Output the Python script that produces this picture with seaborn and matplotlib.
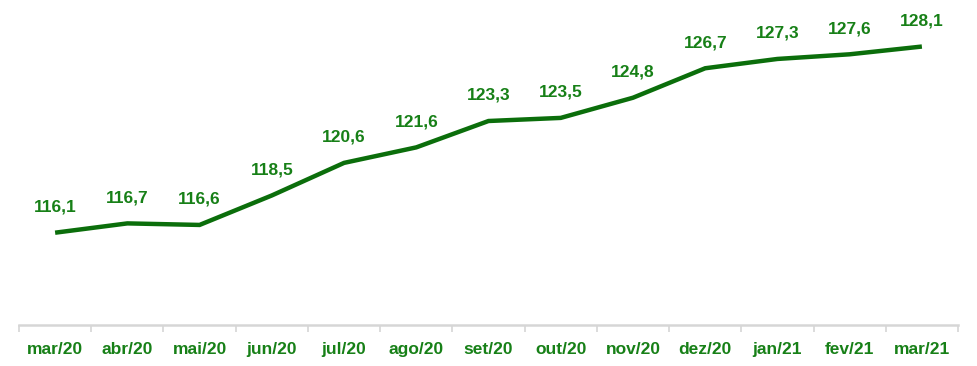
import matplotlib
matplotlib.use("Agg")
import matplotlib.pyplot as plt
import seaborn as sns
import pandas as pd
import numpy as np

months = ["mar/20", "abr/20", "mai/20", "jun/20", "jul/20", "ago/20", "set/20",
          "out/20", "nov/20", "dez/20", "jan/21", "fev/21", "mar/21"]
values = [116.1, 116.7, 116.6, 118.5, 120.6, 121.6, 123.3, 123.5, 124.8,
          126.7, 127.3, 127.6, 128.1]
labels = ["116,1", "116,7", "116,6", "118,5", "120,6", "121,6", "123,3",
          "123,5", "124,8", "126,7", "127,3", "127,6", "128,1"]

sns.set_theme(style="white")
plt.rcParams['font.family'] = ['Liberation Sans', 'DejaVu Sans']

df = pd.DataFrame({"idx": np.arange(len(months)), "value": values})

fig = plt.figure(figsize=(9.78, 3.66), dpi=100)
ax = fig.add_axes([19/978, 1 - 325/366, (958 - 19)/978, 325/366])

line_color = "#0b6e0b"
text_color = "#178017"

sns.lineplot(data=df, x="idx", y="value", ax=ax, color=line_color, linewidth=3.2,
             solid_capstyle="butt", solid_joinstyle="miter")

for i, (v, lab) in enumerate(zip(values, labels)):
    ax.annotate(lab, (i, v), xytext=(0, 13), textcoords="offset points",
                ha="center", va="bottom", fontsize=12.5, fontweight="bold",
                color=text_color)

ax.set_xlim(-0.5, len(months) - 0.5)
ax.set_ylim(110.15, 131.1)
ax.set_xticks(np.arange(len(months)))
ax.set_xticklabels(months, fontsize=12.5, fontweight="bold", color=text_color)
ax.set_xticks(np.arange(len(months) + 1) - 0.5, minor=True)
ax.tick_params(axis="x", which="major", length=0, pad=12)
ax.tick_params(axis="x", which="minor", length=5, width=1.2, color="#d6d6d6",
               bottom=True, direction="out")
ax.set_yticks([])
ax.set_xlabel("")
ax.set_ylabel("")
for s in ["top", "right", "left"]:
    ax.spines[s].set_visible(False)
ax.spines["bottom"].set_color("#d6d6d6")
ax.spines["bottom"].set_linewidth(1.8)
ax.set_facecolor("white")

fig.savefig("out.png", dpi=100, facecolor="white")
